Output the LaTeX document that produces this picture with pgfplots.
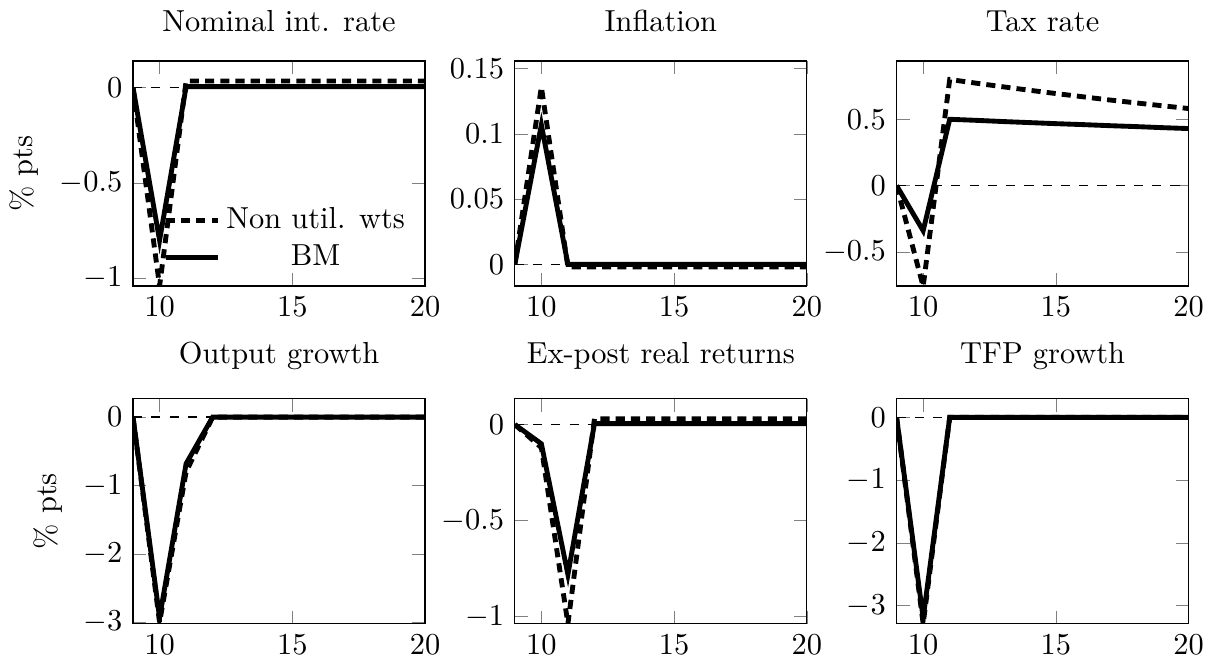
\documentclass[border=0pt]{standalone}
\usepackage{pgfplots}
\pgfplotsset{compat=1.18}
\usepgfplotslibrary{groupplots}
\begin{document}
\begin{tikzpicture}
\pgfplotsset{
  irf/.style={scale only axis,width=96pt,height=74pt,xmin=9,xmax=20,xtick={10,15,20},
    yticklabel style={/pgf/number format/fixed}},
  nu/.style={black,ultra thick,densely dashed},
  bm/.style={black,ultra thick,solid},
  zl/.style={black,thin,dashed,forget plot},
}
\begin{groupplot}[group style={group size=3 by 2,horizontal sep=29.5pt,vertical sep=37pt},irf]
% Nominal int. rate
\nextgroupplot[title={Nominal int. rate},ylabel={\% pts},ymin=-1.04,ymax=0.14,ytick={-1,-0.5,0},
  legend cell align=center,legend style={draw=none,fill=none,at={(0.985,0.012)},anchor=south east}]
\addplot[zl] coordinates {(9,0) (20,0)};
\addplot[nu] coordinates {(9,0) (10,-1.04) (11,0.035) (12,0.035) (13,0.035) (14,0.035) (15,0.035) (16,0.035) (17,0.035) (18,0.035) (19,0.035) (20,0.035)};
\addlegendentry{Non util. wts}
\addplot[bm] coordinates {(9,0) (10,-0.80) (11,0.005) (12,0.005) (13,0.005) (14,0.005) (15,0.005) (16,0.005) (17,0.005) (18,0.005) (19,0.005) (20,0.005)};
\addlegendentry{BM}
% Inflation
\nextgroupplot[title={Inflation},ymin=-0.0166,ymax=0.156,ytick={0,0.05,0.1,0.15}]
\addplot[zl] coordinates {(9,0) (20,0)};
\addplot[nu] coordinates {(9,0) (10,0.136) (11,-0.002) (12,-0.002) (13,-0.002) (14,-0.002) (15,-0.002) (16,-0.002) (17,-0.002) (18,-0.002) (19,-0.002) (20,-0.002)};
\addplot[bm] coordinates {(9,0) (10,0.107) (11,0) (12,0) (13,0) (14,0) (15,0) (16,0) (17,0) (18,0) (19,0) (20,0)};
% Tax rate
\nextgroupplot[title={Tax rate},ymin=-0.757,ymax=0.94,ytick={-0.5,0,0.5}]
\addplot[zl] coordinates {(9,0) (20,0)};
\addplot[nu] coordinates {(9,0) (10,-0.76) (11,0.80) (12,0.772) (13,0.745) (14,0.719) (15,0.694) (16,0.670) (17,0.646) (18,0.624) (19,0.602) (20,0.581)};
\addplot[bm] coordinates {(9,0) (10,-0.34) (11,0.500) (12,0.492) (13,0.483) (14,0.475) (15,0.467) (16,0.460) (17,0.452) (18,0.445) (19,0.437) (20,0.430)};
% Output growth
\nextgroupplot[title={Output growth},ylabel={\% pts},ymin=-3.02,ymax=0.27,ytick={-3,-2,-1,0}]
\addplot[zl] coordinates {(9,0) (20,0)};
\addplot[nu] coordinates {(9,0) (10,-3.0) (11,-0.80) (12,0) (13,0) (14,0) (15,0) (16,0) (17,0) (18,0) (19,0) (20,0)};
\addplot[bm] coordinates {(9,0) (10,-2.93) (11,-0.68) (12,0) (13,0) (14,0) (15,0) (16,0) (17,0) (18,0) (19,0) (20,0)};
% Ex-post real returns
\nextgroupplot[title={Ex-post real returns},ymin=-1.036,ymax=0.135,ytick={-1,-0.5,0}]
\addplot[zl] coordinates {(9,0) (20,0)};
\addplot[nu] coordinates {(9,0) (10,-0.12) (11,-1.036) (12,0.03) (13,0.03) (14,0.03) (15,0.03) (16,0.03) (17,0.03) (18,0.03) (19,0.03) (20,0.03)};
\addplot[bm] coordinates {(9,0) (10,-0.10) (11,-0.78) (12,0.005) (13,0.005) (14,0.005) (15,0.005) (16,0.005) (17,0.005) (18,0.005) (19,0.005) (20,0.005)};
% TFP growth
\nextgroupplot[title={TFP growth},ymin=-3.29,ymax=0.3,ytick={-3,-2,-1,0}]
\addplot[zl] coordinates {(9,0) (20,0)};
\addplot[nu] coordinates {(9,0) (10,-3.29) (11,0) (12,0) (13,0) (14,0) (15,0) (16,0) (17,0) (18,0) (19,0) (20,0)};
\addplot[bm] coordinates {(9,0) (10,-3.2) (11,0) (12,0) (13,0) (14,0) (15,0) (16,0) (17,0) (18,0) (19,0) (20,0)};
\end{groupplot}
\end{tikzpicture}
\end{document}
